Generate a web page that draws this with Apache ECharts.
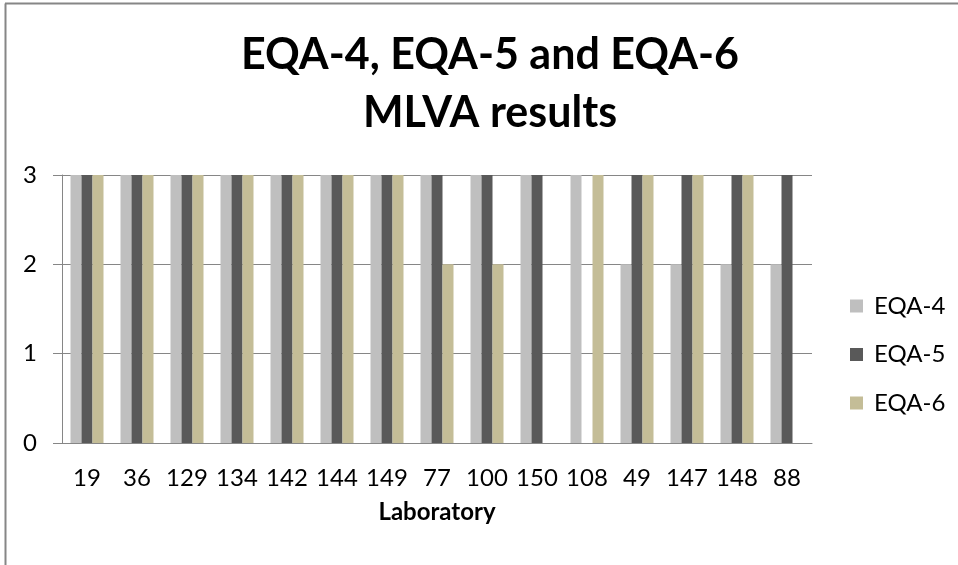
<!DOCTYPE html>
<html>
<head>
<meta charset="utf-8">
<script src="https://cdn.jsdelivr.net/npm/echarts@6/dist/echarts.min.js"></script>
<style>
html,body{margin:0;padding:0;background:#fff;}
#chart{width:958px;height:565px;}
</style>
</head>
<body>
<div id="chart"></div>
<script>
var categories = ['19','36','129','134','142','144','149','77','100','150','108','49','147','148','88'];
var eqa4 = [3,3,3,3,3,3,3,3,3,3,3,2,2,2,2];
var eqa5 = [3,3,3,3,3,3,3,3,3,3,0,3,3,3,3];
var eqa6 = [3,3,3,3,3,3,3,2,2,0,3,3,3,3,0];
var seriesNames = ['EQA-4','EQA-5','EQA-6'];
var colors = ['#bfbfbf','#595959','#c4bd97'];
var yTicks = [0,1,2,3];

var FONT = 'Lato, "Open Sans", sans-serif';
var chart = echarts.init(document.getElementById('chart'), null, {renderer:'canvas'});
var dataSets = [eqa4, eqa5, eqa6];
chart.setOption({
  animation: false,
  backgroundColor: '#ffffff',
  color: colors,
  title: {
    text: 'EQA-4, EQA-5 and EQA-6\nMLVA results',
    left: 485, top: 21, textAlign: 'center',
    textStyle: {fontFamily: FONT, fontSize: 43, fontWeight: 'bold', color: '#000', lineHeight: 58}
  },
  legend: {
    orient: 'vertical', left: 845, top: 289,
    itemWidth: 13, itemHeight: 13, itemGap: 24.5,
    icon: 'rect',
    textStyle: {fontFamily: FONT, fontSize: 24, color: '#000', lineHeight: 24, padding: [0, 0, 0, 6]},
    data: seriesNames
  },
  grid: {left: 62, right: 146, top: 175, bottom: 122, containLabel: false},
  xAxis: {
    type: 'category', data: categories,
    name: 'Laboratory', nameLocation: 'middle', nameGap: 57, nameMoveOverlap: false,
    nameTextStyle: {fontFamily: FONT, fontSize: 24, fontWeight: 'bold', color: '#000', lineHeight: 24},
    axisLine: {show: true, lineStyle: {color: '#868686', width: 1}},
    axisTick: {show: false},
    axisLabel: {fontFamily: FONT, fontSize: 24, color: '#000', margin: 23, lineHeight: 24, interval: 0}
  },
  yAxis: {
    type: 'value', min: yTicks[0], max: yTicks[yTicks.length-1], interval: 1,
    axisLine: {show: true, lineStyle: {color: '#868686', width: 1}},
    axisTick: {show: true, length: 9, lineStyle: {color: '#868686'}},
    axisLabel: {fontFamily: FONT, fontSize: 24, color: '#000', margin: 25},
    splitLine: {show: true, lineStyle: {color: '#868686', width: 1}}
  },
  series: seriesNames.map(function(n, i){
    return {
      name: n, type: 'bar', data: dataSets[i],
      barWidth: 11, barGap: '0%', barCategoryGap: '34%',
      itemStyle: {color: colors[i]}
    };
  }),
  graphic: [
    {type: 'line', shape: {x1: 5.5, y1: 3.5, x2: 5.5, y2: 570}, style: {stroke: '#868686', lineWidth: 2}},
    {type: 'line', shape: {x1: 5, y1: 3.5, x2: 960, y2: 3.5}, style: {stroke: '#868686', lineWidth: 2}}
  ]
});
</script>
</body>
</html>
